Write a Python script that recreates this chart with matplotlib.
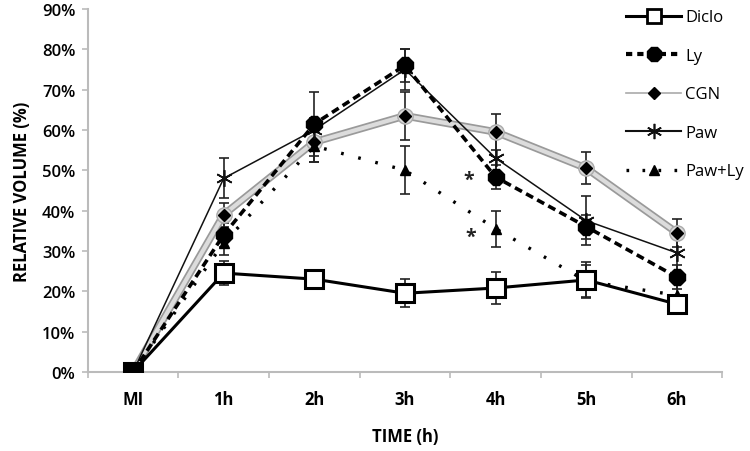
import matplotlib
matplotlib.use("Agg")
import matplotlib.pyplot as plt
import matplotlib.patheffects as pe
from matplotlib.lines import Line2D
import numpy as np

categories = ["MI", "1h", "2h", "3h", "4h", "5h", "6h"]
diclo = [0, 24.5, 23, 19.5, 20.8, 22.8, 16.8]
diclo_err = [0, 3, 1, 3.5, 4, 4.5, 2]
ly = [0, 34, 61.5, 76, 48.3, 36, 23.5]
ly_err = [0, 3, 8, 4, 3, 3, 3]
cgn = [0, 39, 57, 63.5, 59.5, 50.5, 34.5]
cgn_err = [0, 3, 5, 6, 4.5, 4, 3.5]
paw = [0, 48, 60, 75, 53, 37.5, 29.5]
paw_err = [0, 5, 3, 5, 5, 6, 5]
pawly = [0, 32, 56, 50, 35.5, 22.5, 19]
pawly_err = [0, 3, 4, 6, 4.5, 4, 3]
asterisks = [(3.7, 47.5), (3.72, 33.5)]
series_names = ['Diclo', 'Ly', 'CGN', 'Paw', 'Paw+Ly']

plt.rcParams['font.family'] = ['Open Sans', 'DejaVu Sans']
fig = plt.figure(figsize=(7.5, 4.52), dpi=100)
ax = fig.add_axes([0.117, 0.175, 0.846, 0.803])
x = np.arange(len(categories))

ekw = dict(ecolor='#222222', elinewidth=1.2, capsize=3.5, capthick=1.2)
star = (6, 2, 0)

# CGN
ax.errorbar(x, cgn, yerr=cgn_err, fmt='none', zorder=2, **ekw)
ax.plot(x, cgn, color='#dcdcdc', lw=3, zorder=3,
        path_effects=[pe.Stroke(linewidth=5.5, foreground='#9a9a9a'), pe.Normal()])
ax.plot(x, cgn, ls='none', marker='o', ms=11, mfc='#d8d8d8', mec='#aaaaaa', zorder=3)
ax.plot(x, cgn, ls='none', marker='D', ms=6, color='black', zorder=4)

# Paw
ax.errorbar(x, paw, yerr=paw_err, fmt='none', zorder=2, **ekw)
ax.plot(x, paw, color='#111111', lw=1.1, marker=star, ms=12, mew=1.2, zorder=5)

# Ly
ax.errorbar(x, ly, yerr=ly_err, fmt='none', zorder=2, **ekw)
ax.plot(x, ly, color='black', lw=2.6, ls=(0, (2.2, 1.3)), marker='8', ms=13, zorder=6)

# Paw+Ly
ax.errorbar(x, pawly, yerr=pawly_err, fmt='none', zorder=2, **ekw)
ax.plot(x, pawly, color='black', lw=2.4, ls=(0, (0.8, 4.5)), marker='^', ms=7.5, zorder=6)

# Diclo
ax.errorbar(x, diclo, yerr=diclo_err, fmt='none', zorder=2, **ekw)
ax.plot(x, diclo, color='black', lw=2.2, marker='s', ms=13, mfc='white', mec='black', mew=2.2, zorder=7)
ax.plot([0], [0], marker='s', ms=13, color='black', zorder=8)

for (ax_x, ax_y) in asterisks:
    ax.text(ax_x, ax_y, '*', fontsize=14, fontweight='bold', ha='center', va='center', color='#222222')

ax.set_xlim(-0.5, 6.5)
ax.set_ylim(0, 90)
ax.set_yticks(np.arange(0, 91, 10))
ax.set_yticklabels([f"{v}%" for v in range(0, 91, 10)], fontsize=12, fontweight='semibold')
ax.set_xticks(x)
ax.set_xticklabels(categories, fontsize=12, fontweight='bold')
ax.set_xticks(np.arange(-0.5, 7, 1), minor=True)
ax.tick_params(axis='x', which='major', length=0, pad=13)
ax.tick_params(axis='x', which='minor', length=4, color='#bbbbbb', width=1.2)
ax.tick_params(axis='y', length=4, color='#bbbbbb', width=1.2, pad=5)
for s in ['top', 'right']:
    ax.spines[s].set_visible(False)
for s in ['left', 'bottom']:
    ax.spines[s].set_color('#bbbbbb')
    ax.spines[s].set_linewidth(1.5)

ax.set_ylabel('RELATIVE VOLUME (%)', fontsize=12, fontweight='bold', labelpad=8)
ax.set_xlabel('TIME (h)', fontsize=12, fontweight='bold', labelpad=14)

handles = [
    Line2D([], [], color='black', lw=2.2, marker='s', ms=10, mfc='white', mec='black', mew=2),
    Line2D([], [], color='black', lw=3, ls=(0, (1.5, 1.2)), marker='8', ms=11),
    Line2D([], [], color='#aaaaaa', lw=1.2, marker='D', ms=6, mfc='black', mec='black'),
    Line2D([], [], color='#111111', lw=1.5, marker=star, ms=11, mew=1.2),
    Line2D([], [], color='black', lw=2.4, ls=(0, (0.8, 4)), marker='^', ms=7),
]
fig.legend(handles, series_names,
           loc='upper left', bbox_to_anchor=(0.815, 1.01), frameon=False,
           fontsize=12, handlelength=3.3, labelspacing=1.35, handletextpad=0.25)

fig.savefig('out.png', dpi=100)
